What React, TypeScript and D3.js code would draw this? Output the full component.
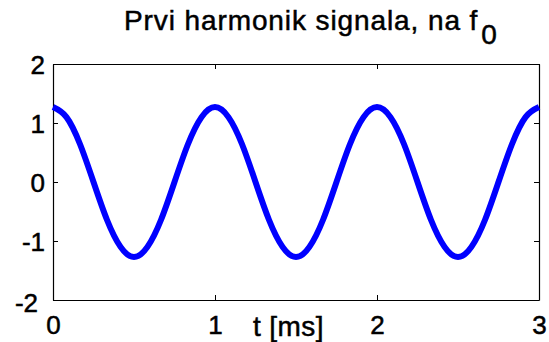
import React, { useEffect, useRef } from "react";
import * as d3 from "d3";

// Time samples in ms (every 1/12 ms) and the first-harmonic amplitude at each
const tMs = [
  0, 0.083, 0.167, 0.25, 0.333, 0.417, 0.5, 0.583, 0.667, 0.75, 0.833, 0.917,
  1, 1.083, 1.167, 1.25, 1.333, 1.417, 1.5, 1.583, 1.667, 1.75, 1.833, 1.917,
  2, 2.083, 2.167, 2.25, 2.333, 2.417, 2.5, 2.583, 2.667, 2.75, 2.833, 2.917,
  3,
];
const amplitude = [
  1.27, 1.1, 0.64, 0, -0.64, -1.1, -1.27, -1.1, -0.64, 0, 0.64, 1.1,
  1.27, 1.1, 0.64, 0, -0.64, -1.1, -1.27, -1.1, -0.64, 0, 0.64, 1.1,
  1.27, 1.1, 0.64, 0, -0.64, -1.1, -1.27, -1.1, -0.64, 0, 0.64, 1.1,
  1.27,
];
const xTicks = [0, 1, 2, 3];
const yTicks = [-2, -1, 0, 1, 2];
const titleText = "Prvi harmonik signala, na f";
const titleSub = "0";
const xLabel = "t [ms]";

const W = 549;
const H = 342;
const M = { left: 53, right: 10, top: 64, bottom: 42 };
const FONT = "'Liberation Sans', Arial, Helvetica, sans-serif";
const TICK_FS = 26;
const LABEL_FS = 28;

export default function App() {
  const ref = useRef<SVGSVGElement | null>(null);

  useEffect(() => {
    const svg = d3.select(ref.current);
    svg.selectAll("*").remove();

    const x = d3.scaleLinear().domain([0, 3]).range([M.left, W - M.right]);
    const y = d3.scaleLinear().domain([-2, 2]).range([H - M.bottom, M.top]);
    const fmt = (d: d3.NumberValue) => String(d);

    const g = svg.append("g");

    // Bottom axis with labels, ticks pointing inward
    const bottom = g
      .append("g")
      .attr("transform", `translate(0,${y(-2)})`)
      .call(d3.axisBottom(x).tickValues(xTicks).tickSize(-5).tickSizeOuter(0).tickPadding(16).tickFormat(fmt));
    // Left axis with labels
    const left = g
      .append("g")
      .attr("transform", `translate(${x(0)},0)`)
      .call(d3.axisLeft(y).tickValues(yTicks).tickSize(-5).tickSizeOuter(0).tickPadding(8).tickFormat(fmt));
    // Top and right axes: ticks only
    g.append("g")
      .attr("transform", `translate(0,${y(2)})`)
      .call(d3.axisTop(x).tickValues(xTicks).tickSize(-5).tickSizeOuter(0).tickFormat(() => ""));
    g.append("g")
      .attr("transform", `translate(${x(3)},0)`)
      .call(d3.axisRight(y).tickValues(yTicks).tickSize(-5).tickSizeOuter(0).tickFormat(() => ""));

    g.selectAll(".domain").attr("stroke", "#000").attr("stroke-width", 1.2);
    g.selectAll(".tick line").attr("stroke", "#000").attr("stroke-width", 1);
    g.selectAll(".tick text")
      .attr("font-family", FONT)
      .attr("font-size", TICK_FS)
      .attr("fill", "#000")
      .attr("stroke", "#000")
      .attr("stroke-width", 0.5);

    bottom.selectAll(".tick text").attr("dy", "0.71em");
    // Lowest y label sits a bit lower and to the left
    left
      .selectAll<SVGTextElement, number>(".tick text")
      .attr("dy", (d) => (d === -2 ? "0.44em" : "0.36em"))
      .attr("dx", (d) => (d === -2 ? -7 : 0));

    // Signal curve
    const pts = tMs.map((t, i) => [t, amplitude[i]] as [number, number]);
    const line = d3
      .line<[number, number]>()
      .x((d) => x(d[0]))
      .y((d) => y(d[1]))
      .curve(d3.curveNatural);
    g.append("path")
      .datum(pts)
      .attr("d", line)
      .attr("fill", "none")
      .attr("stroke", "#0000ff")
      .attr("stroke-width", 6)
      .attr("stroke-linejoin", "round");

    // x-axis label
    g.append("text")
      .attr("x", 253)
      .attr("y", 336)
      .attr("font-family", FONT)
      .attr("font-size", LABEL_FS)
      .attr("letter-spacing", 0.4)
      .attr("stroke", "#000")
      .attr("stroke-width", 0.5)
      .text(xLabel);

    // Title with subscript
    const title = g
      .append("text")
      .attr("x", 124)
      .attr("y", 30)
      .attr("font-family", FONT)
      .attr("font-size", LABEL_FS)
      .attr("letter-spacing", 0.9)
      .attr("stroke", "#000")
      .attr("stroke-width", 0.5);
    title.append("tspan").text(titleText);
    title.append("tspan").attr("dx", 3).attr("dy", 14).text(titleSub);
  }, []);

  return (
    <svg
      ref={ref}
      width={W}
      height={H}
      style={{ position: "absolute", left: 0, top: 0, background: "#fff" }}
    />
  );
}
